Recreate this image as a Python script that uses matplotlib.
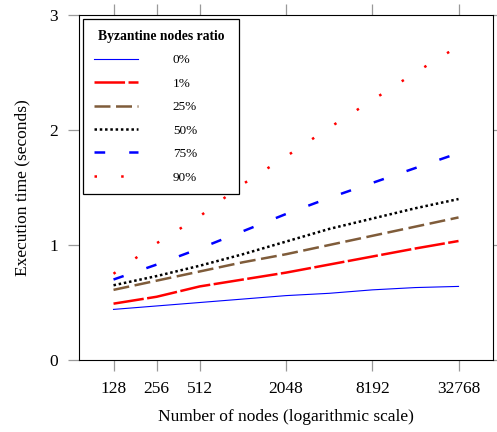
import matplotlib
matplotlib.use("Agg")
import matplotlib.pyplot as plt

plt.rcParams['font.family'] = ['Liberation Serif', 'DejaVu Serif']
plt.rcParams['lines.scale_dashes'] = False

# data
nodes = [128, 256, 512, 1024, 2048, 4096, 8192, 16384, 32768]
tick_nodes = [128, 256, 512, 2048, 8192, 32768]
ratios = ["0%", "1%", "25%", "50%", "75%", "90%"]
t_0 = [0.44, 0.47, 0.50, 0.53, 0.56, 0.58, 0.61, 0.63, 0.64]
t_1 = [0.49, 0.55, 0.64, 0.70, 0.76, 0.83, 0.90, 0.97, 1.035]
t_25 = [0.61, 0.69, 0.77, 0.85, 0.92, 1.00, 1.08, 1.16, 1.24]
t_50 = [0.65, 0.73, 0.82, 0.92, 1.03, 1.14, 1.23, 1.32, 1.40]
t_75 = [0.70, 0.83, 0.97, 1.12, 1.27, 1.41, 1.54, 1.67, 1.80]
t_90 = [0.75, 1.015, 1.25, 1.53, 1.77, 2.02, 2.26, 2.50, 2.73]

series = [t_0, t_1, t_25, t_50, t_75, t_90]
colors = ["blue", "red", "#7f5c3a", "black", "blue", "red"]
widths = [0.8, 1.8, 1.8, 1.8, 1.8, 1.8]
dashes = [None, (22, 2.5), (11.5, 4), (1.8, 2), (7.7, 17.3), (1.8, 17.4)]

fig = plt.figure(figsize=(4.97, 4.32), dpi=100)
ax = fig.add_axes([0.159, 0.1667, 0.833, 0.7983])

for vals, lab, c, lw, d in zip(series, ratios, colors, widths, dashes):
    line, = ax.plot(nodes, vals, color=c, lw=lw, label=lab)
    if d is not None:
        line.set_dashes(d)

ax.set_xscale("log", base=2)
ax.set_xlim(2 ** 6.2, 2 ** 15.8)
ax.set_ylim(0, 3)
ax.set_xticks(tick_nodes)
ax.set_xticklabels([str(n) for n in tick_nodes])
ax.minorticks_off()
ax.set_yticks([0, 1, 2, 3])

ax.tick_params(direction="out", length=8, width=0.9, color="#999999",
               labelsize=12.5, pad=7, top=True, right=True)
for s in ax.spines.values():
    s.set_linewidth(0.8)

ax.set_xlabel("Number of nodes (logarithmic scale)", fontsize=12.5, labelpad=9)
ax.set_ylabel("Execution time (seconds)", fontsize=12.5, labelpad=14)

# legend box fixed to the reference width (mode expand)
leg = ax.legend(loc="upper left", bbox_to_anchor=(0.0097, 0.4, 0.377, 0.588),
                mode="expand", borderaxespad=0, alignment="center",
                title="Byzantine nodes ratio", fontsize=9.5,
                title_fontproperties={"weight": "bold", "size": 9.8},
                handlelength=3.4, handletextpad=2.6, labelspacing=0.85,
                borderpad=0.8, fancybox=False, framealpha=1)
leg.get_frame().set_edgecolor("black")
leg.get_frame().set_linewidth(0.9)

fig.savefig("out.png", dpi=100)
